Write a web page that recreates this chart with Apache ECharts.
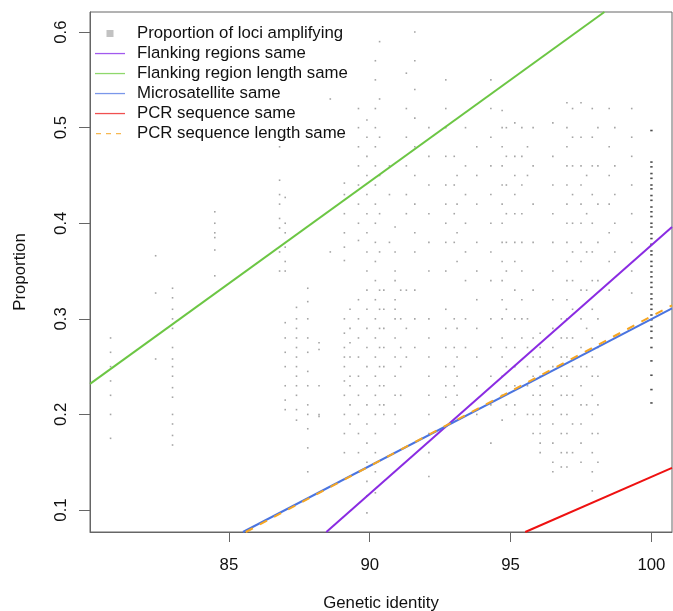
<!DOCTYPE html>
<html>
<head>
<meta charset="utf-8">
<script src="https://cdn.jsdelivr.net/npm/echarts@6/dist/echarts.min.js"></script>
<style>
html,body{margin:0;padding:0;background:#fff;}
#chart{width:673px;height:611px;}
</style>
</head>
<body>
<div id="chart"></div>
<script>
// ---- tick labels ----
const xTicks = [85, 90, 95, 100];
const yTicks = [0.1, 0.2, 0.3, 0.4, 0.5, 0.6];

// ---- scatter: proportion of loci amplifying (columns of points per genetic identity) ----
const lociX = [80.8, 82.4, 83.0, 84.5, 86.8, 87.0, 87.4, 87.8, 88.2, 88.6, 89.1, 89.3, 89.6, 89.9, 90.2, 90.35, 90.5, 90.7, 90.9, 91.1, 91.3, 91.6, 92.1, 92.7, 93.0, 93.1, 93.4, 93.8, 94.3, 94.7, 94.85, 95.15, 95.4, 95.6, 95.8, 96.05, 96.5, 96.8, 97.0, 97.2, 97.5, 97.7, 97.9, 98.1, 98.5, 98.7, 99.3];
const lociY = [
  [0.28, 0.265, 0.25, 0.235, 0.22, 0.2, 0.175],
  [0.366, 0.327, 0.258],
  [0.332, 0.322, 0.31, 0.3, 0.29, 0.27, 0.258, 0.25, 0.24, 0.228, 0.218, 0.2, 0.19, 0.178, 0.168],
  [0.412, 0.40, 0.39, 0.385, 0.372, 0.345],
  [0.48, 0.445, 0.43, 0.42, 0.405, 0.395, 0.37, 0.35],
  [0.49, 0.427, 0.40, 0.39, 0.375, 0.36, 0.35, 0.296, 0.28, 0.265, 0.25, 0.23, 0.215, 0.205],
  [0.312, 0.30, 0.29, 0.28, 0.27, 0.26, 0.25, 0.24, 0.23, 0.22, 0.205, 0.194],
  [0.332, 0.318, 0.30, 0.28, 0.265, 0.245, 0.23, 0.21, 0.20, 0.185, 0.165, 0.14],
  [0.275, 0.268, 0.23, 0.20, 0.198],
  [0.53, 0.37],
  [0.442, 0.43, 0.41, 0.39, 0.375, 0.361, 0.30, 0.285, 0.27, 0.26, 0.25, 0.235, 0.22, 0.20, 0.18, 0.16],
  [0.31, 0.29, 0.275, 0.26, 0.24, 0.23, 0.21, 0.19],
  [0.52, 0.50, 0.48, 0.46, 0.44, 0.42, 0.40, 0.382, 0.32, 0.30, 0.28, 0.26, 0.24, 0.22, 0.20, 0.18, 0.16, 0.14],
  [0.508, 0.49, 0.47, 0.45, 0.43, 0.41, 0.39, 0.37, 0.35, 0.33, 0.31, 0.29, 0.27, 0.25, 0.23, 0.21, 0.19, 0.17, 0.15, 0.13, 0.115, 0.097],
  [0.57, 0.55, 0.52, 0.50, 0.48, 0.46, 0.44, 0.42, 0.40, 0.38, 0.36, 0.34, 0.32, 0.30, 0.28, 0.26, 0.24, 0.22, 0.20, 0.18, 0.16, 0.14, 0.118],
  [0.59, 0.53, 0.49, 0.45, 0.41, 0.37, 0.33, 0.31, 0.29, 0.27, 0.25, 0.23, 0.21],
  [0.33, 0.31, 0.29, 0.27, 0.25, 0.23, 0.21, 0.20],
  [0.46, 0.43, 0.38],
  [0.396, 0.37, 0.35, 0.34, 0.32, 0.31, 0.30, 0.28, 0.26, 0.24, 0.22, 0.20, 0.19],
  [0.33, 0.30, 0.27, 0.25, 0.22],
  [0.557, 0.52, 0.49, 0.46, 0.43, 0.41, 0.33, 0.29, 0.26],
  [0.60, 0.57, 0.54, 0.51, 0.48, 0.45, 0.42, 0.39, 0.37, 0.33, 0.30, 0.27],
  [0.50, 0.47, 0.44, 0.41, 0.38, 0.35, 0.30, 0.28, 0.26, 0.24, 0.22, 0.20, 0.18, 0.16, 0.135],
  [0.55, 0.52, 0.50, 0.47, 0.44, 0.42, 0.40, 0.38, 0.35, 0.31, 0.29, 0.27, 0.25, 0.23, 0.218],
  [0.47, 0.44, 0.41, 0.38, 0.30, 0.27, 0.25, 0.23, 0.21],
  [0.45, 0.42, 0.39, 0.36, 0.29, 0.26, 0.24, 0.22],
  [0.50, 0.46, 0.43, 0.40, 0.37, 0.34, 0.30, 0.27],
  [0.48, 0.45, 0.42, 0.38, 0.35, 0.32, 0.29, 0.26, 0.23, 0.20],
  [0.55, 0.52, 0.49, 0.46, 0.43, 0.40, 0.37, 0.34, 0.30, 0.27, 0.24, 0.21, 0.17],
  [0.518, 0.50, 0.48, 0.46, 0.44, 0.42, 0.40, 0.38, 0.36, 0.34, 0.32, 0.30, 0.28, 0.26, 0.24, 0.22, 0.194],
  [0.50, 0.47, 0.44, 0.41, 0.38, 0.35, 0.31, 0.27, 0.25, 0.23, 0.21],
  [0.505, 0.47, 0.45, 0.43, 0.41, 0.38, 0.36, 0.33, 0.30, 0.27, 0.25, 0.23, 0.21, 0.20],
  [0.50, 0.47, 0.44, 0.41, 0.38, 0.35, 0.32, 0.30, 0.28],
  [0.48, 0.45, 0.30, 0.27, 0.25, 0.23, 0.20],
  [0.50, 0.46, 0.42, 0.38, 0.33, 0.28, 0.26, 0.24, 0.22, 0.20, 0.18],
  [0.285, 0.27, 0.26, 0.25, 0.24, 0.23, 0.22, 0.21, 0.20, 0.19, 0.18, 0.17, 0.16],
  [0.505, 0.47, 0.44, 0.41, 0.38, 0.35, 0.32, 0.29, 0.27, 0.25, 0.23, 0.21, 0.19, 0.17, 0.15, 0.14],
  [0.30, 0.28, 0.26, 0.24, 0.22, 0.20, 0.18, 0.16, 0.145],
  [0.526, 0.50, 0.48, 0.46, 0.44, 0.42, 0.40, 0.38, 0.36, 0.34, 0.32, 0.30, 0.28, 0.26, 0.24, 0.22, 0.20, 0.18, 0.16, 0.145],
  [0.52, 0.49, 0.46, 0.43, 0.40, 0.37, 0.34, 0.31, 0.28, 0.25, 0.22, 0.19, 0.16],
  [0.526, 0.49, 0.46, 0.44, 0.42, 0.40, 0.38, 0.36, 0.33, 0.30, 0.27, 0.25, 0.23, 0.21, 0.19, 0.17, 0.15],
  [0.45, 0.41, 0.37, 0.33, 0.29, 0.25, 0.21],
  [0.52, 0.49, 0.46, 0.43, 0.40, 0.37, 0.34, 0.31, 0.28, 0.26, 0.24, 0.22, 0.20, 0.18, 0.16, 0.14, 0.12],
  [0.50, 0.46, 0.42, 0.38, 0.34, 0.30, 0.27, 0.24, 0.21, 0.18, 0.15],
  [0.52, 0.48, 0.45, 0.42, 0.39, 0.36, 0.33],
  [0.50, 0.46, 0.43, 0.40, 0.37],
  [0.52, 0.49, 0.47, 0.44, 0.41, 0.38, 0.35, 0.327]
];
// dense column at 100 % identity (drawn darker)
const denseX = 100;
const denseY = [0.497, 0.464, 0.459, 0.452, 0.447, 0.44, 0.436, 0.429, 0.424, 0.417, 0.412, 0.407, 0.40, 0.396, 0.389, 0.384, 0.378, 0.371, 0.367, 0.36, 0.355, 0.349, 0.344, 0.338, 0.333, 0.326, 0.321, 0.315, 0.31, 0.304, 0.299, 0.292, 0.287, 0.28, 0.27, 0.256, 0.241, 0.226, 0.212];

// ---- fitted lines: endpoints read where they meet the plot frame ----
const flankingRegionsSame = [[88.46, 0.077], [100.73, 0.396]];
const flankingLengthSame = [[80.07, 0.232], [98.33, 0.621]];
const microsatelliteSame = [[85.5, 0.077], [100.73, 0.311]];
const pcrSequenceSame = [[95.52, 0.077], [100.73, 0.144]];
const pcrLengthSame = [[85.6, 0.077], [100.73, 0.314]];

const lociPoints = [];
lociX.forEach((x, i) => lociY[i].forEach(y => lociPoints.push([x, y])));
const densePoints = denseY.map(y => [denseX, y]);

const FONT = '"Liberation Sans", Arial, Helvetica, sans-serif';
const FS = 16.8;
const AXIS_COLOR = '#666';
// legend icons (30 x 14 box)
const ICON_SQUARE = 'path://M0,0M30,14M11.5,3.5h7v7h-7z';
const ICON_LINE = 'path://M0,0M30,14M0,6.4h30v1.3h-30z';
const ICON_DASH = 'path://M0,0M30,14M1,6.4h5v1.3h-5zM11,6.4h5v1.3h-5zM21,6.4h5v1.3h-5z';

const chart = echarts.init(document.getElementById('chart'));
function lineSeries(name, data, color, dashed) {
  return {
    name, type: 'line', data, symbol: 'circle', showSymbol: false, silent: true, clip: true,
    lineStyle: { color, width: 2, type: dashed ? [8, 8] : 'solid' },
    itemStyle: { color }, z: 3
  };
}
chart.setOption({
  animation: false,
  backgroundColor: '#fff',
  grid: { left: 90, right: 1, top: 12, bottom: 79, show: true, borderColor: AXIS_COLOR, borderWidth: 1, containLabel: false, outerBoundsMode: 'none' },
  legend: {
    orient: 'vertical', left: 95, top: 25, itemWidth: 30, itemHeight: 14, itemGap: 3, padding: 0,
    selectedMode: false,
    textStyle: { fontSize: FS, fontFamily: FONT, color: '#111', lineHeight: 14, padding: [0, 0, 0, 7] },
    data: [
      { name: 'Proportion of loci amplifying', icon: ICON_SQUARE, itemStyle: { color: '#b3b3b3' } },
      { name: 'Flanking regions same', icon: ICON_LINE, itemStyle: { color: '#a259ee' } },
      { name: 'Flanking region length same', icon: ICON_LINE, itemStyle: { color: '#8fd86c' } },
      { name: 'Microsatellite same', icon: ICON_LINE, itemStyle: { color: '#7b97ea' } },
      { name: 'PCR sequence same', icon: ICON_LINE, itemStyle: { color: '#f05050' } },
      { name: 'PCR sequence length same', icon: ICON_DASH, itemStyle: { color: '#f7b850' } }
    ]
  },
  xAxis: {
    type: 'value', min: 80.07, max: 100.73,
    name: 'Genetic identity', nameLocation: 'middle', nameGap: 63,
    nameTextStyle: { fontSize: FS, fontFamily: FONT, color: '#111' },
    axisLine: { show: true, lineStyle: { color: AXIS_COLOR } },
    axisTick: { show: true, length: 10, customValues: xTicks, lineStyle: { color: AXIS_COLOR } },
    axisLabel: { customValues: xTicks, margin: 25, fontSize: FS, fontFamily: FONT, color: '#111' },
    splitLine: { show: false }
  },
  yAxis: {
    type: 'value', min: 0.077, max: 0.621,
    name: 'Proportion', nameLocation: 'middle', nameGap: 61, nameRotate: 90,
    nameTextStyle: { fontSize: FS, fontFamily: FONT, color: '#111' },
    axisLine: { show: true, lineStyle: { color: AXIS_COLOR } },
    axisTick: { show: true, length: 11, customValues: yTicks, lineStyle: { color: AXIS_COLOR } },
    axisLabel: { customValues: yTicks, rotate: 90, margin: 20, fontSize: FS, fontFamily: FONT, color: '#111', formatter: v => v.toFixed(1) },
    splitLine: { show: false }
  },
  series: [
    { name: 'Proportion of loci amplifying', type: 'scatter', data: lociPoints, symbol: 'rect', symbolSize: 1.6, silent: true, itemStyle: { color: '#8f8f8f' }, z: 1 },
    { name: 'Proportion of loci amplifying', type: 'scatter', data: densePoints, symbol: 'rect', symbolSize: [2.4, 1.6], silent: true, itemStyle: { color: '#222' }, z: 1 },
    lineSeries('Flanking regions same', flankingRegionsSame, '#8a2be2'),
    lineSeries('Flanking region length same', flankingLengthSame, '#6cc644'),
    lineSeries('Microsatellite same', microsatelliteSame, '#4a74e0'),
    lineSeries('PCR sequence same', pcrSequenceSame, '#ee1111'),
    lineSeries('PCR sequence length same', pcrLengthSame, '#f5a623', true)
  ]
});
</script>
</body>
</html>
